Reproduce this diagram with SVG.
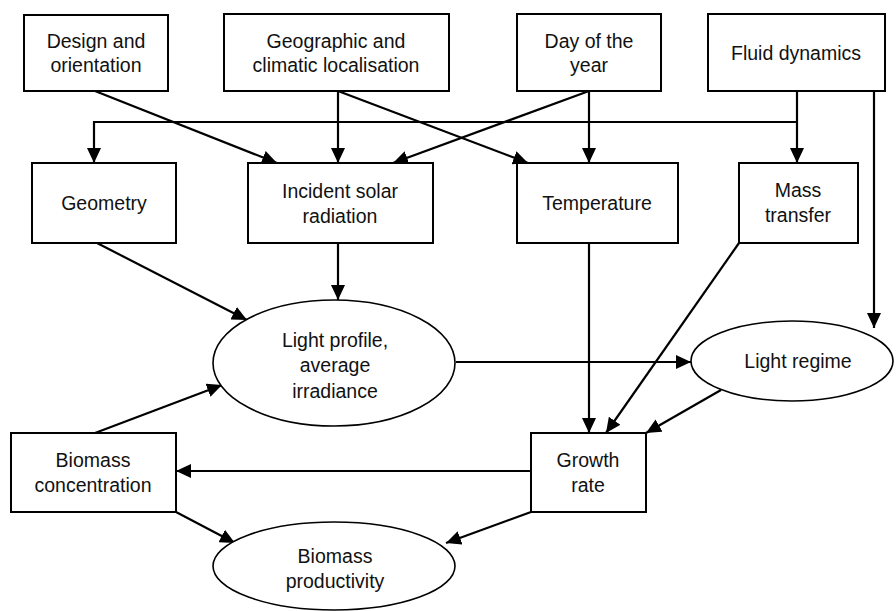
<svg xmlns="http://www.w3.org/2000/svg" width="896" height="611" viewBox="0 0 896 611">
<defs>
<marker id="ah" markerUnits="userSpaceOnUse" markerWidth="16" markerHeight="14" refX="15" refY="7" orient="auto">
<path d="M0,0 L15,7 L0,14 z" fill="#000"/>
</marker>
<style>
.box{fill:#fff;stroke:#000;stroke-width:2}
.ell{fill:#fff;stroke:#000;stroke-width:1.6}
.lbl{font-family:"Liberation Sans",Arial,sans-serif;font-size:19.5px;fill:#111;text-anchor:middle}
.c{fill:none;stroke:#000;stroke-width:2.2}
.a{marker-end:url(#ah)}
</style>
</defs>
<rect width="896" height="611" fill="#fff"/>
<g id="connectors">
<path class="c a" d="M95,91 L277,163"/>
<path class="c a" d="M338,91 L338,163"/>
<path class="c a" d="M338,91 L528,163"/>
<path class="c a" d="M589,91 L393,163"/>
<path class="c a" d="M589,91 L589,163"/>
<path class="c a" d="M797,91 L797,163"/>
<path class="c a" d="M797,122 H94 V163"/>
<path class="c a" d="M874,91 L874,328"/>
<path class="c a" d="M97,243 L247,320"/>
<path class="c a" d="M338,243 L338,300"/>
<path class="c a" d="M95,433 L222,385"/>
<path class="c a" d="M456,362 L691,362"/>
<path class="c a" d="M589,243 L589,433"/>
<path class="c a" d="M739,243 L606,433"/>
<path class="c a" d="M721,390 L646,433"/>
<path class="c a" d="M531,471 L176,471"/>
<path class="c a" d="M176,512 L235,543"/>
<path class="c a" d="M531,512 L446,543"/>
</g>
<g id="design">
<rect class="box" x="24" y="15" width="144" height="76"/>
<text class="lbl" x="96" y="48">Design and</text>
<text class="lbl" x="96" y="72">orientation</text>
</g>
<g id="geographic">
<rect class="box" x="224" y="14" width="225" height="77"/>
<text class="lbl" x="336" y="48">Geographic and</text>
<text class="lbl" x="336" y="72">climatic localisation</text>
</g>
<g id="day">
<rect class="box" x="517" y="14" width="144" height="77"/>
<text class="lbl" x="589" y="48">Day of the</text>
<text class="lbl" x="589" y="72">year</text>
</g>
<g id="fluid">
<rect class="box" x="708" y="14" width="177" height="77"/>
<text class="lbl" x="796" y="60">Fluid dynamics</text>
</g>
<g id="geometry">
<rect class="box" x="32" y="163" width="144" height="80"/>
<text class="lbl" x="104" y="210">Geometry</text>
</g>
<g id="incident">
<rect class="box" x="248" y="163" width="185" height="80"/>
<text class="lbl" x="340" y="198">Incident solar</text>
<text class="lbl" x="340" y="223">radiation</text>
</g>
<g id="temperature">
<rect class="box" x="517" y="163" width="161" height="80"/>
<text class="lbl" x="597" y="210">Temperature</text>
</g>
<g id="mass">
<rect class="box" x="739" y="163" width="119" height="80"/>
<text class="lbl" x="798" y="197">Mass</text>
<text class="lbl" x="798" y="222">transfer</text>
</g>
<g id="lightprofile">
<ellipse class="ell" cx="334" cy="363" rx="121" ry="63"/>
<text class="lbl" x="335" y="347">Light profile,</text>
<text class="lbl" x="335" y="372">average</text>
<text class="lbl" x="335" y="398">irradiance</text>
</g>
<g id="lightregime">
<ellipse class="ell" cx="792" cy="361" rx="101" ry="40"/>
<text class="lbl" x="798" y="368">Light regime</text>
</g>
<g id="biomassconc">
<rect class="box" x="11" y="433" width="165" height="79"/>
<text class="lbl" x="93" y="467">Biomass</text>
<text class="lbl" x="93" y="492">concentration</text>
</g>
<g id="growth">
<rect class="box" x="531" y="433" width="115" height="79"/>
<text class="lbl" x="588" y="467">Growth</text>
<text class="lbl" x="588" y="492">rate</text>
</g>
<g id="productivity">
<ellipse class="ell" cx="334" cy="566" rx="121" ry="44"/>
<text class="lbl" x="335" y="563">Biomass</text>
<text class="lbl" x="335" y="588">productivity</text>
</g>
</svg>
